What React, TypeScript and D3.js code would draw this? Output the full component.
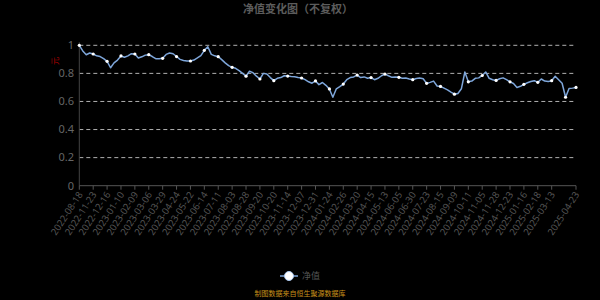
import React, { useEffect, useRef } from "react";
import * as d3 from "d3";

const tickLabels = [
  "2022-08-18", "2022-11-23", "2022-12-16", "2023-01-10", "2023-02-09", "2023-03-06",
  "2023-03-29", "2023-04-24", "2023-05-22", "2023-06-14", "2023-07-11", "2023-08-03",
  "2023-08-28", "2023-09-20", "2023-10-20", "2023-11-14", "2023-12-07", "2023-12-31",
  "2024-01-24", "2024-02-26", "2024-03-20", "2024-04-15", "2024-05-13", "2024-06-05",
  "2024-06-30", "2024-07-23", "2024-08-15", "2024-09-09", "2024-10-11", "2024-11-05",
  "2024-11-28", "2024-12-23", "2025-01-16", "2025-02-18", "2025-03-13", "2025-04-23",
];

const navValues = [
  1.0, 0.96, 0.933, 0.945, 0.938, 0.925, 0.92, 0.905, 0.886, 0.84,
  0.875, 0.895, 0.924, 0.915, 0.925, 0.94, 0.938, 0.91, 0.918, 0.93,
  0.933, 0.92, 0.905, 0.905, 0.907, 0.935, 0.945, 0.94, 0.92, 0.9,
  0.892, 0.888, 0.888, 0.895, 0.91, 0.926, 0.964, 0.99, 0.935, 0.925,
  0.919, 0.898, 0.875, 0.855, 0.843, 0.836, 0.82, 0.8, 0.78, 0.815,
  0.805, 0.78, 0.76, 0.8, 0.795, 0.77, 0.748, 0.765, 0.77, 0.783,
  0.781, 0.778, 0.776, 0.77, 0.767, 0.755, 0.74, 0.73, 0.746, 0.72,
  0.735, 0.715, 0.689, 0.63, 0.69, 0.705, 0.724, 0.755, 0.77, 0.775,
  0.788, 0.77, 0.775, 0.765, 0.77, 0.755, 0.765, 0.783, 0.795, 0.783,
  0.772, 0.775, 0.772, 0.765, 0.767, 0.76, 0.755, 0.764, 0.767, 0.762,
  0.729, 0.736, 0.745, 0.71, 0.707, 0.695, 0.683, 0.667, 0.652, 0.657,
  0.69, 0.81, 0.74, 0.745, 0.765, 0.768, 0.785, 0.81, 0.765, 0.755,
  0.75, 0.762, 0.768, 0.755, 0.74, 0.728, 0.7, 0.708, 0.722, 0.733,
  0.742, 0.748, 0.736, 0.76, 0.745, 0.742, 0.748, 0.78, 0.755, 0.73,
  0.63, 0.692, 0.695, 0.7,
];

const yTicks = [0, 0.2, 0.4, 0.6, 0.8, 1];
const LABEL_STEP = 4;

export default function App() {
  const ref = useRef<SVGSVGElement>(null);

  useEffect(() => {
    document.body.style.margin = "0";
    document.body.style.background = "#000";
    const svg = d3.select(ref.current);
    svg.selectAll("*").remove();

    const W = 600, H = 300;
    const left = 79.3, right = 576, top = 45.3, bottom = 185.7;
    const n = navValues.length;
    const x = d3.scaleLinear().domain([0, n - 1]).range([left, right]);
    const y = d3.scaleLinear().domain([0, 1]).range([bottom, top]);

    svg.append("rect").attr("width", W).attr("height", H).attr("fill", "#000");

    svg.append("text")
      .attr("x", 298).attr("y", 13)
      .attr("text-anchor", "middle")
      .attr("font-family", "'Noto Sans CJK SC', sans-serif")
      .attr("font-size", 11).attr("font-weight", "bold")
      .attr("fill", "#5c5c5c")
      .text("净值变化图（不复权）");

    yTicks.filter(t => t > 0).forEach(t => {
      svg.append("line")
        .attr("x1", left).attr("x2", right - 2)
        .attr("y1", y(t)).attr("y2", y(t))
        .attr("stroke", "#b0b0b0").attr("stroke-width", 1)
        .attr("stroke-dasharray", "4,3");
    });

    yTicks.forEach(t => {
      svg.append("text")
        .attr("x", 74).attr("y", y(t))
        .attr("dy", "0.35em")
        .attr("text-anchor", "end")
        .attr("font-family", "'Noto Sans', sans-serif")
        .attr("font-size", 11)
        .attr("fill", "#666")
        .text(d3.format("~g")(t));
    });

    svg.append("text")
      .attr("x", 55).attr("y", 61)
      .attr("text-anchor", "middle")
      .attr("dy", "0.35em")
      .attr("font-family", "'Noto Sans CJK SC', sans-serif")
      .attr("font-size", 8)
      .attr("fill", "#a00000")
      .attr("transform", "rotate(-90,55,61)")
      .text("元");

    svg.append("line")
      .attr("x1", left).attr("x2", left).attr("y1", top - 3).attr("y2", bottom)
      .attr("stroke", "#444");
    svg.append("line")
      .attr("x1", left).attr("x2", right).attr("y1", bottom).attr("y2", bottom)
      .attr("stroke", "#555");

    const tickIdx: number[] = [];
    for (let j = 0; j < tickLabels.length - 1; j++) tickIdx.push(j * LABEL_STEP);
    tickIdx.push(n - 1);

    tickIdx.forEach((idx, j) => {
      const tx = x(idx);
      svg.append("line")
        .attr("x1", tx).attr("x2", tx).attr("y1", bottom).attr("y2", bottom + 4)
        .attr("stroke", "#555");
      svg.append("text")
        .attr("transform", `translate(${tx + 1},${bottom + 7}) rotate(-57)`)
        .attr("text-anchor", "end")
        .attr("dy", "0.35em")
        .attr("font-family", "'Noto Sans', sans-serif")
        .attr("font-size", 9.5)
        .attr("fill", "#555")
        .text(tickLabels[j]);
    });

    const line = d3.line<number>()
      .x((_, i) => x(i))
      .y(d => y(d))
      .curve(d3.curveLinear);
    svg.append("path")
      .datum(navValues)
      .attr("d", line)
      .attr("fill", "none")
      .attr("stroke", "#7ea6da")
      .attr("stroke-width", 1.5)
      .attr("stroke-linejoin", "round");

    const markIdx: number[] = [];
    for (let i = 0; i < n; i += LABEL_STEP) markIdx.push(i);
    if (markIdx[markIdx.length - 1] !== n - 1) markIdx.push(n - 1);
    svg.append("g").selectAll("circle")
      .data(markIdx)
      .join("circle")
      .attr("cx", i => x(i))
      .attr("cy", i => y(navValues[i]))
      .attr("r", 1.6)
      .attr("fill", "#fff")
      .attr("stroke", "none");

    svg.append("line")
      .attr("x1", 280).attr("x2", 298).attr("y1", 276).attr("y2", 276)
      .attr("stroke", "#7ea6da").attr("stroke-width", 1.5);
    svg.append("circle")
      .attr("cx", 289).attr("cy", 276).attr("r", 4.5)
      .attr("fill", "#fff").attr("stroke", "#aac8f0").attr("stroke-width", 1);
    svg.append("text")
      .attr("x", 302).attr("y", 276).attr("dy", "0.35em")
      .attr("font-family", "'Noto Sans CJK SC', sans-serif")
      .attr("font-size", 9)
      .attr("fill", "#555")
      .text("净值");

    svg.append("text")
      .attr("x", 300).attr("y", 296)
      .attr("text-anchor", "middle")
      .attr("font-family", "'Noto Sans CJK SC', sans-serif")
      .attr("font-size", 7)
      .attr("fill", "#c8901a")
      .text("制图数据来自恒生聚源数据库");
  }, []);

  return (
    <svg ref={ref} width={600} height={300}
      style={{ position: "fixed", left: 0, top: 0, display: "block" }} />
  );
}
